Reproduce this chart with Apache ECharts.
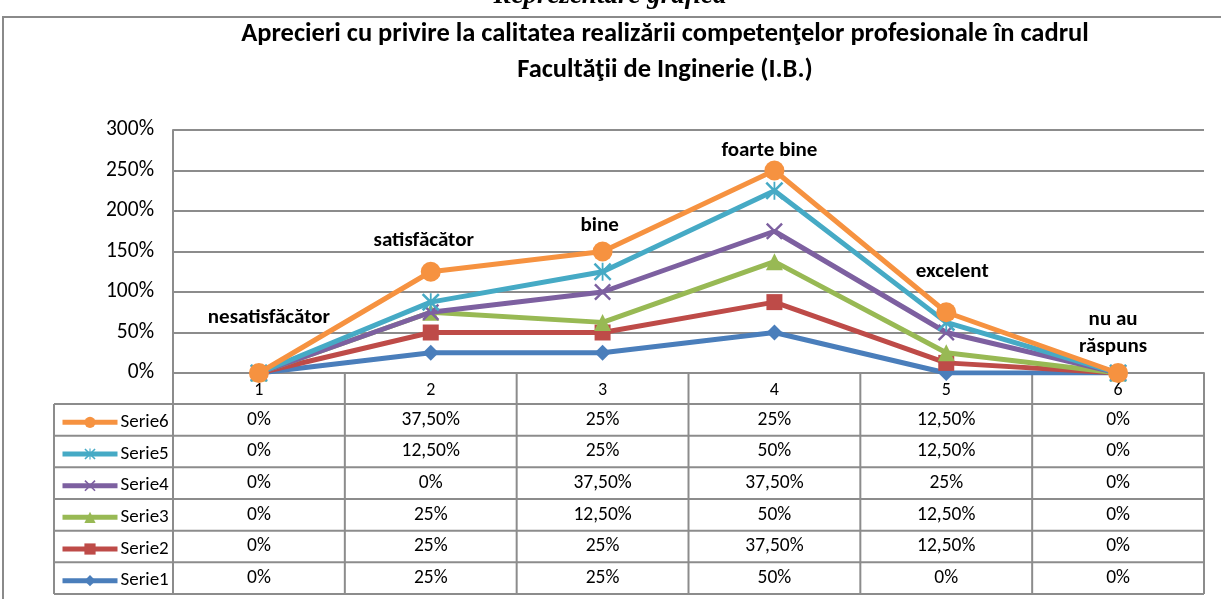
<!DOCTYPE html>
<html>
<head>
<meta charset="utf-8">
<script src="https://cdn.jsdelivr.net/npm/echarts@6/dist/echarts.min.js"></script>
<style>
  html, body { margin: 0; padding: 0; background: #fff; }
  #chart { width: 1221px; height: 599px; }
</style>
</head>
<body>
<div id="chart"></div>
<script>
// date citite din tabel (procente)
var categories = ['1', '2', '3', '4', '5', '6'];
var pointLabels = ['nesatisfăcător', 'satisfăcător', 'bine', 'foarte bine', 'excelent', 'nu au\nrăspuns'];
var serie1 = [0, 25, 25, 50, 0, 0];
var serie2 = [0, 25, 25, 37.5, 12.5, 0];
var serie3 = [0, 25, 12.5, 50, 12.5, 0];
var serie4 = [0, 0, 37.5, 37.5, 25, 0];
var serie5 = [0, 12.5, 25, 50, 12.5, 0];
var serie6 = [0, 37.5, 25, 25, 12.5, 0];
var yTicks = [0, 50, 100, 150, 200, 250, 300];

(function () {
    'use strict';
    var myChart = echarts.init(document.getElementById('chart'));

    var GL = 173, GR = 1204, GT = 130, GB = 373;
    var TAB_L = 54, TAB_T = 404, ROW_H = 31.67;
    var colW = (GR - GL) / categories.length;
    var font = 'Carlito, "Noto Sans", sans-serif';

    var X_PATH = 'path://M0,2 L2,0 L10,8 L18,0 L20,2 L12,10 L20,18 L18,20 L10,12 L2,20 L0,18 L8,10 Z';
    var STAR_PATH = 'path://M0,2 L2,0 L10,8 L18,0 L20,2 L12,10 L20,18 L18,20 L10,12 L2,20 L0,18 L8,10 Z M9,0 L11,0 L11,20 L9,20 Z';

    var names = ['Serie1', 'Serie2', 'Serie3', 'Serie4', 'Serie5', 'Serie6'];
    var values = [serie1, serie2, serie3, serie4, serie5, serie6];
    var colors = ['#4A7EBB', '#BE4B48', '#98B954', '#7D60A0', '#46AAC5', '#F69240'];
    var symbols = ['diamond', 'rect', 'triangle', X_PATH, STAR_PATH, 'circle'];
    var sizes = [16, 16, 17, 17, 18, 20];

    // deplasari etichete fata de punctul seriei de sus
    var labelOffsets = [[10, -55], [-7, -31], [-3, -26], [-5, -20], [6, -41], [-5, -40]];

    function fmt(v) {
        if (v % 1 === 0) return v + '%';
        return v.toFixed(2).replace('.', ',') + '%';
    }

    var series = names.map(function (n, i) {
        var s = {
            name: n,
            type: 'line',
            stack: 'total',
            data: values[i].slice(),
            symbol: symbols[i],
            symbolSize: sizes[i],
            showAllSymbol: true,
            itemStyle: { color: colors[i] },
            lineStyle: { color: colors[i], width: 5 },
            emphasis: { disabled: true },
            z: 2 + i
        };
        if (i === names.length - 1) {
            s.data = values[i].map(function (v, k) {
                return {
                    value: v,
                    label: {
                        show: true,
                        position: 'inside',
                        offset: labelOffsets[k],
                        formatter: pointLabels[k],
                        fontFamily: font,
                        fontWeight: 'bold',
                        fontSize: 21,
                        lineHeight: 27,
                        color: '#000'
                    }
                };
            });
        }
        return s;
    });

    // tabelul de date sub grafic
    var graphic = [];
    graphic.push({
        type: 'rect', shape: { x: 3, y: 17, width: 1240, height: 620 },
        style: { fill: 'none', stroke: '#8a8a8a', lineWidth: 2 }, silent: true
    });
    graphic.push({
        type: 'text', x: 610, y: 10,
        style: { text: 'Reprezentare grafică', font: 'italic bold 27px "Liberation Serif"',
                 fill: '#000', align: 'center', verticalAlign: 'bottom' }
    });
    var lineStyle = { stroke: '#8c8c8c', lineWidth: 2 };
    for (var r = 0; r <= names.length; r++) {
        var y = TAB_T + r * ROW_H;
        graphic.push({ type: 'line', shape: { x1: TAB_L, y1: y, x2: GR, y2: y }, style: lineStyle, silent: true });
    }
    graphic.push({ type: 'line', shape: { x1: TAB_L, y1: TAB_T, x2: TAB_L, y2: TAB_T + 6 * ROW_H }, style: lineStyle, silent: true });
    for (var c = 0; c <= categories.length; c++) {
        var x = GL + c * colW;
        graphic.push({ type: 'line', shape: { x1: x, y1: GB, x2: x, y2: TAB_T + 6 * ROW_H }, style: lineStyle, silent: true });
    }
    // randuri: Serie6 sus ... Serie1 jos
    for (var row = 0; row < names.length; row++) {
        var si = names.length - 1 - row;
        for (var col = 0; col < categories.length; col++) {
            graphic.push({
                type: 'text',
                x: GL + (col + 0.5) * colW,
                y: TAB_T + (row + 0.5) * ROW_H,
                style: { text: fmt(values[si][col]), font: '19.5px ' + font, fill: '#000',
                         align: 'center', verticalAlign: 'middle' },
                silent: true
            });
        }
    }

    // cate o legenda pe fiecare rand al tabelului
    var legends = names.slice().reverse().map(function (n, r) {
        return {
            orient: 'horizontal',
            left: 60,
            top: TAB_T + r * ROW_H + ROW_H / 2 - 7,
            padding: 0,
            itemWidth: 55,
            itemHeight: 14,
            data: [n],
            lineStyle: { width: 5 },
            textStyle: { fontFamily: font, fontSize: 19, color: '#000', padding: [0, 0, 0, -2] },
            selectedMode: false
        };
    });

    var option = {
        animation: false,
        title: {
            text: 'Aprecieri cu privire la calitatea realizării competenţelor profesionale în cadrul\nFacultăţii de Inginerie (I.B.)',
            left: 660,
            top: 11,
            textAlign: 'center',
            textStyle: { fontFamily: font, fontWeight: 'bold', fontSize: 26.5, lineHeight: 36, color: '#000' }
        },
        legend: legends,
        grid: { left: GL, right: 1221 - GR, top: GT, bottom: 599 - GB },
        xAxis: {
            type: 'category',
            data: categories,
            boundaryGap: true,
            axisLine: { lineStyle: { color: '#8c8c8c', width: 2 } },
            axisTick: { show: false },
            axisLabel: { fontFamily: font, fontSize: 18, color: '#000', margin: 8 }
        },
        yAxis: {
            type: 'value',
            min: yTicks[0],
            max: yTicks[yTicks.length - 1],
            interval: 50,
            axisLine: { show: true, lineStyle: { color: '#8c8c8c', width: 2 } },
            axisTick: { show: false },
            splitLine: { lineStyle: { color: '#8c8c8c', width: 2 } },
            axisLabel: { fontFamily: font, fontSize: 21.5, color: '#000', margin: 19,
                         formatter: function (v) { return v + '%'; } }
        },
        graphic: graphic,
        series: series
    };

    myChart.setOption(option);
    window.addEventListener('resize', function () {
        myChart.resize();
    });
})();
</script>
</body>
</html>
